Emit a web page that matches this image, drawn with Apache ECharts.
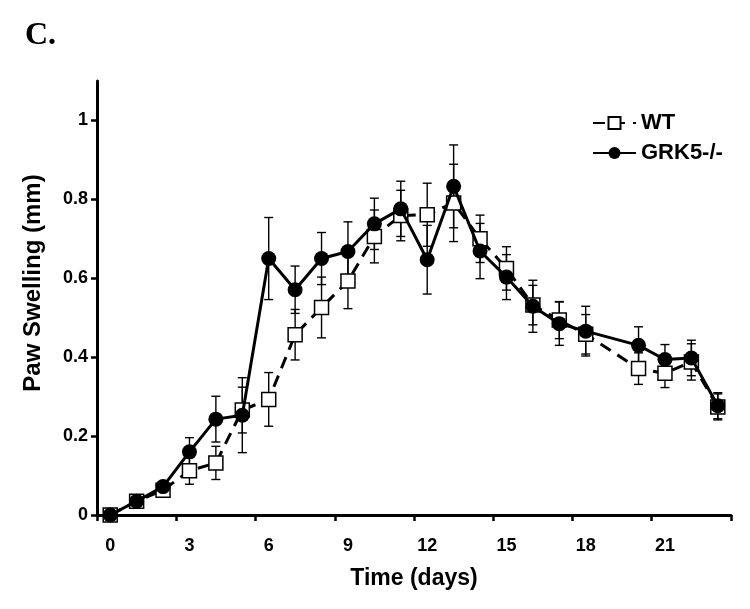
<!DOCTYPE html>
<html>
<head>
<meta charset="utf-8">
<script src="https://cdn.jsdelivr.net/npm/echarts@6/dist/echarts.min.js"></script>
<style>
html,body{margin:0;padding:0;background:#fff;}
#chart{width:750px;height:609px;}
</style>
</head>
<body>
<div id="chart"></div>
<script>
// ---- data ----
var days = ['0','1','2','3','4','5','6','7','8','9','10','11','12','13','14','15','16','17','18','19','20','21','22','23'];
var wtMean   = [0, 0.035, 0.063, 0.112, 0.132, 0.266, 0.293, 0.457, 0.526, 0.593, 0.706, 0.759, 0.761, 0.791, 0.700, 0.625, 0.532, 0.494, 0.458, null, 0.371, 0.359, 0.388, 0.274];
var wtErr    = [0.004, 0.006, 0.010, 0.034, 0.042, 0.058, 0.068, 0.064, 0.077, 0.070, 0.067, 0.064, 0.080, 0.098, 0.060, 0.055, 0.050, 0.047, 0.050, null, 0.040, 0.036, 0.046, 0.033];
var grkMean  = [0, 0.035, 0.072, 0.160, 0.243, 0.253, 0.650, 0.571, 0.650, 0.668, 0.738, 0.776, 0.647, 0.833, 0.669, 0.603, 0.529, 0.485, 0.466, null, 0.430, 0.394, 0.398, 0.277];
var grkErr   = [0.004, 0.006, 0.010, 0.036, 0.058, 0.095, 0.104, 0.060, 0.066, 0.075, 0.065, 0.070, 0.087, 0.105, 0.070, 0.057, 0.066, 0.055, 0.063, null, 0.047, 0.038, 0.045, 0.033];
var yTicks   = [0, 0.2, 0.4, 0.6, 0.8, 1];
var seriesNames = ['WT', 'GRK5-/-'];

var FONT = '"Liberation Sans", Arial, sans-serif';

function errData(mean, err) {
  var out = [];
  for (var i = 0; i < mean.length; i++) {
    if (mean[i] == null || err[i] == null) continue;
    out.push([i, mean[i] - err[i], mean[i] + err[i]]);
  }
  return out;
}

function renderErr(params, api) {
  var lo = api.coord([api.value(0), api.value(1)]);
  var hi = api.coord([api.value(0), api.value(2)]);
  var hw = 4.5;
  var st = {stroke: '#000', lineWidth: 1.4};
  return {
    type: 'group',
    children: [
      {type: 'line', shape: {x1: lo[0], y1: lo[1], x2: hi[0], y2: hi[1]}, style: st},
      {type: 'line', shape: {x1: lo[0]-hw, y1: lo[1], x2: lo[0]+hw, y2: lo[1]}, style: st},
      {type: 'line', shape: {x1: hi[0]-hw, y1: hi[1], x2: hi[0]+hw, y2: hi[1]}, style: st}
    ]
  };
}

var chart = echarts.init(document.getElementById('chart'), null, {renderer: 'canvas'});
chart.setOption({
  animation: false,
  backgroundColor: '#fff',
  grid: {left: 97, right: 19, top: 81, bottom: 94, containLabel: false},
  legend: {
    orient: 'vertical',
    left: 587,
    top: 107,
    itemWidth: 43,
    itemHeight: 15,
    itemGap: 8,
    data: seriesNames,
    textStyle: {fontFamily: FONT, fontWeight: 'bold', fontSize: 22, color: '#000'}
  },
  graphic: [
    {type: 'text', left: 25, top: 20, style: {text: 'C.', font: 'bold 32px "Liberation Serif", "Times New Roman", serif', fill: '#000'}},
    {type: 'text', x: 33, y: 283, rotation: Math.PI / 2,
     style: {text: 'Paw Swelling (mm)', font: 'bold 24px ' + FONT, fill: '#000', align: 'center', verticalAlign: 'middle'}}
  ],
  xAxis: {
    type: 'category',
    data: days,
    boundaryGap: true,
    name: 'Time (days)',
    nameLocation: 'middle',
    nameGap: 52,
    nameTextStyle: {fontFamily: FONT, fontWeight: 'bold', fontSize: 23, color: '#000'},
    axisLine: {lineStyle: {color: '#000', width: 3}},
    axisTick: {show: true, interval: 2, length: 6, inside: false, lineStyle: {color: '#000', width: 2.5}},
    axisLabel: {interval: 2, margin: 22, fontFamily: FONT, fontWeight: 'bold', fontSize: 18, color: '#000'},
    splitLine: {show: false}
  },
  yAxis: {
    type: 'value',
    min: 0,
    max: 1.1,
    axisLine: {show: true, lineStyle: {color: '#000', width: 3}},
    axisTick: {show: true, length: 6, customValues: yTicks, lineStyle: {color: '#000', width: 2.5}},
    axisLabel: {customValues: yTicks, margin: 9, fontFamily: FONT, fontWeight: 'bold', fontSize: 18, color: '#000'},
    splitLine: {show: false}
  },
  series: [
    {
      type: 'custom', name: 'wtErr', renderItem: renderErr, data: errData(wtMean, wtErr), z: 1, silent: true
    },
    {
      type: 'custom', name: 'grkErr', renderItem: renderErr, data: errData(grkMean, grkErr), z: 1, silent: true
    },
    {
      name: seriesNames[0], type: 'line', data: wtMean, connectNulls: true, z: 2,
      symbol: 'rect', symbolSize: 14,
      lineStyle: {color: '#000', width: 3, type: [12, 8]},
      itemStyle: {color: '#fff', borderColor: '#000', borderWidth: 1.5}
    },
    {
      name: seriesNames[1], type: 'line', data: grkMean, connectNulls: true, z: 3,
      symbol: 'circle', symbolSize: 15,
      lineStyle: {color: '#000', width: 3},
      itemStyle: {color: '#000', borderColor: '#000', borderWidth: 0}
    }
  ]
});
</script>
</body>
</html>
